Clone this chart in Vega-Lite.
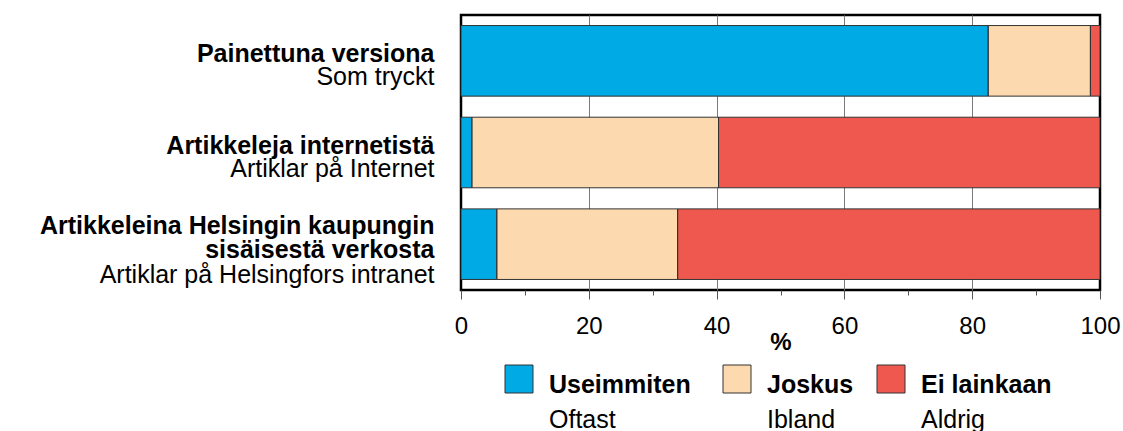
{
  "$schema": "https://vega.github.io/schema/vega-lite/v6.json",
  "autosize": {"type": "pad"},
  "padding": {"left": 38, "top": 13, "right": 24, "bottom": 0},
  "background": "white",
  "config": {"font": "Liberation Sans", "view": {"stroke": null}},
  "datasets": {
    "bars": [
      {"row": "Painettuna versiona|Som tryckt", "cat": "Useimmiten", "o": 1, "value": 82.5},
      {"row": "Painettuna versiona|Som tryckt", "cat": "Joskus", "o": 2, "value": 16.0},
      {"row": "Painettuna versiona|Som tryckt", "cat": "Ei lainkaan", "o": 3, "value": 1.5},
      {"row": "Artikkeleja internetistä|Artiklar på Internet", "cat": "Useimmiten", "o": 1, "value": 1.7},
      {"row": "Artikkeleja internetistä|Artiklar på Internet", "cat": "Joskus", "o": 2, "value": 38.6},
      {"row": "Artikkeleja internetistä|Artiklar på Internet", "cat": "Ei lainkaan", "o": 3, "value": 59.7},
      {"row": "Artikkeleina Helsingin kaupungin|sisäisestä verkosta|Artiklar på Helsingfors intranet", "cat": "Useimmiten", "o": 1, "value": 5.6},
      {"row": "Artikkeleina Helsingin kaupungin|sisäisestä verkosta|Artiklar på Helsingfors intranet", "cat": "Joskus", "o": 2, "value": 28.3},
      {"row": "Artikkeleina Helsingin kaupungin|sisäisestä verkosta|Artiklar på Helsingfors intranet", "cat": "Ei lainkaan", "o": 3, "value": 66.1}
    ],
    "legend": [
      {"cat": "Useimmiten", "o": 1, "fi": "Useimmiten", "sv": "Oftast"},
      {"cat": "Joskus", "o": 2, "fi": "Joskus", "sv": "Ibland"},
      {"cat": "Ei lainkaan", "o": 3, "fi": "Ei lainkaan", "sv": "Aldrig"}
    ]
  },
  "spacing": 75,
  "bounds": "flush",
  "vconcat": [
    {
      "width": 639,
      "height": 275,
      "data": {"name": "bars"},
      "view": {"stroke": "black", "strokeWidth": 2.5},
      "layer": [
        {
          "mark": {"type": "bar", "strokeWidth": 0},
          "encoding": {
            "y": {
              "field": "row", "type": "nominal", "sort": null,
              "scale": {"paddingInner": 0.23, "paddingOuter": 0.115},
              "axis": {
                "orient": "left", "title": null, "ticks": false, "tickSize": 0, "domain": false, "grid": false,
                "labelExpr": "split(datum.value, '|')[0]",
                "labelFont": "Liberation Sans", "labelFontSize": 25, "labelFontWeight": "bold",
                "labelAlign": "right", "labelBaseline": "alphabetic",
                "labelOffset": {"condition": {"test": "length(split(datum.value, '|')) == 3", "value": -10.5}, "value": 1},
                "labelPadding": 27, "labelLimit": 600, "labelColor": "black"
              }
            },
            "x": {
              "field": "value", "type": "quantitative", "stack": "zero",
              "scale": {"domain": [0, 100], "nice": false},
              "axis": {
                "orient": "bottom", "title": "%", "values": [0, 10, 20, 30, 40, 50, 60, 70, 80, 90, 100],
                "labelExpr": "datum.value % 20 === 0 ? datum.label : ''",
                "domain": false,
                "grid": true, "gridColor": "#7a7a7a", "gridWidth": 1,
                "gridOpacity": {"condition": {"test": "datum.value % 20 === 0 && datum.value > 0 && datum.value < 100", "value": 1}, "value": 0},
                "tickColor": "#555555", "tickWidth": 1,
                "tickSize": {"condition": {"test": "datum.value % 20 === 0", "value": 9}, "value": 5},
                "labelFont": "Liberation Sans", "labelFontSize": 24, "labelColor": "black", "labelPadding": 15,
                "labelFlush": false, "labelOverlap": false,
                "titleFont": "Liberation Sans", "titleFontSize": 24, "titleFontWeight": "bold", "titleColor": "black", "titlePadding": -8
              }
            },
            "color": {
              "field": "cat", "type": "nominal",
              "scale": {"domain": ["Useimmiten", "Joskus", "Ei lainkaan"], "range": ["#00AAE4", "#FCD9AE", "#EE584E"]},
              "legend": null
            },
            "order": {"field": "o", "type": "quantitative"}
          }
        },
        {
          "mark": {"type": "bar", "filled": false, "stroke": "#333333", "strokeWidth": 1},
          "encoding": {
            "y": {
              "field": "row", "type": "nominal", "sort": null,
              "scale": {"paddingInner": 0.23, "paddingOuter": 0.115},
              "axis": {
                "orient": "left", "title": null, "ticks": false, "tickSize": 0, "domain": false, "grid": false,
                "labelExpr": "length(split(datum.value, '|')) == 3 ? split(datum.value, '|')[1] : ''",
                "labelFont": "Liberation Sans", "labelFontSize": 25, "labelFontWeight": "bold",
                "labelAlign": "right", "labelBaseline": "alphabetic", "labelOffset": 14,
                "labelPadding": 27, "labelLimit": 600, "labelColor": "black"
              }
            },
            "x": {"field": "value", "type": "quantitative", "stack": "zero"},
            "detail": {"field": "cat"},
            "order": {"field": "o", "type": "quantitative"}
          }
        },
        {
          "mark": {"type": "bar", "opacity": 0},
          "encoding": {
            "y": {
              "field": "row", "type": "nominal", "sort": null,
              "scale": {"paddingInner": 0.23, "paddingOuter": 0.115},
              "axis": {
                "orient": "left", "title": null, "ticks": false, "tickSize": 0, "domain": false, "grid": false,
                "labelExpr": "peek(split(datum.value, '|'))",
                "labelFont": "Liberation Sans", "labelFontSize": 25, "labelFontWeight": "normal",
                "labelAlign": "right", "labelBaseline": "alphabetic",
                "labelOffset": {"condition": {"test": "length(split(datum.value, '|')) == 3", "value": 38.5}, "value": 24.5},
                "labelPadding": 27, "labelLimit": 600, "labelColor": "black"
              }
            },
            "x": {"field": "value", "type": "quantitative", "stack": "zero"},
            "detail": {"field": "cat"},
            "order": {"field": "o", "type": "quantitative"}
          }
        }
      ],
      "resolve": {"axis": {"y": "independent"}}
    },
    {
      "width": 639,
      "height": 28,
      "data": {"name": "legend"},
      "encoding": {
        "x": {"field": "o", "type": "quantitative", "scale": {"domain": [1, 2, 3], "range": [58, 276, 430], "nice": false, "zero": false}, "axis": null}
      },
      "layer": [
        {
          "mark": {"type": "square", "size": 784, "filled": true, "opacity": 1, "stroke": "#333333", "strokeWidth": 1},
          "encoding": {
            "color": {
              "field": "cat", "type": "nominal",
              "scale": {"domain": ["Useimmiten", "Joskus", "Ei lainkaan"], "range": ["#00AAE4", "#FCD9AE", "#EE584E"]},
              "legend": null
            }
          }
        },
        {
          "mark": {"type": "text", "align": "left", "baseline": "alphabetic", "dx": 30, "dy": 14, "fontSize": 25, "fontWeight": "bold", "font": "Liberation Sans", "color": "black"},
          "encoding": {"text": {"field": "fi"}}
        },
        {
          "mark": {"type": "text", "align": "left", "baseline": "alphabetic", "dx": 30, "dy": 49, "fontSize": 25, "fontWeight": "normal", "font": "Liberation Sans", "color": "black"},
          "encoding": {"text": {"field": "sv"}}
        }
      ]
    }
  ]
}
